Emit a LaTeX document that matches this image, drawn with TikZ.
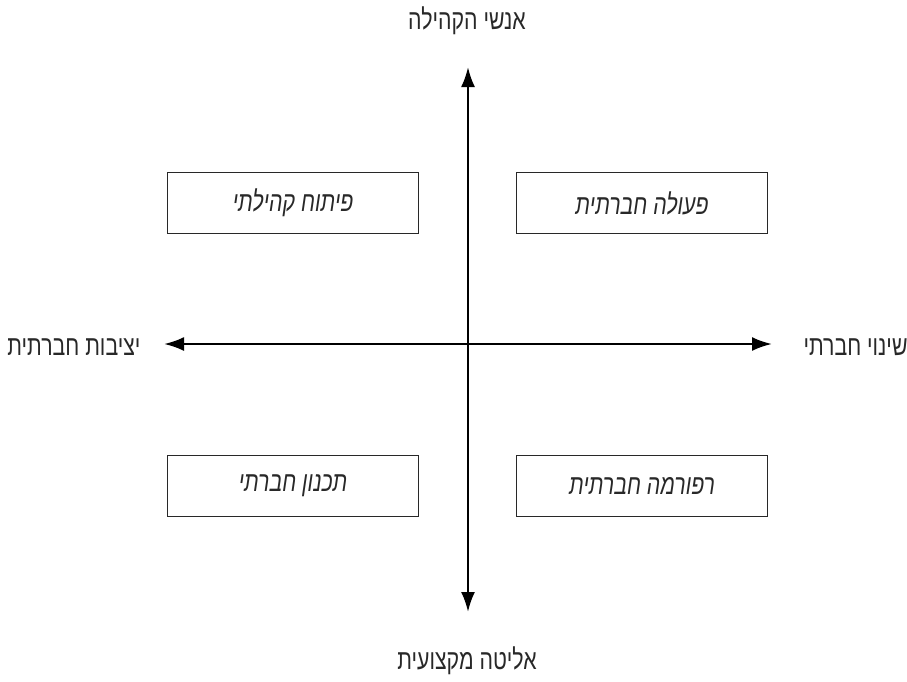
\documentclass[tikz,border=0pt]{standalone}
\usepackage{fontspec}
\usetikzlibrary{arrows.meta}
\TeXXeTstate=1
\newfontfamily\hebfont[Script=Hebrew,FakeStretch=0.76]{Liberation Sans}
\definecolor{inkgray}{RGB}{40,40,40}
\begin{document}
\begin{tikzpicture}[x=1pt,y=-1pt,
				quadbox/.style={draw=inkgray,line width=1.3pt,minimum width=251pt,minimum height=61pt,
					text=inkgray,font=\hebfont\itshape\fontsize{28}{32}\selectfont},
				axislabel/.style={text=inkgray,font=\hebfont\fontsize{28}{32}\selectfont},
				axis/.style={line width=2.4pt,-{Latex[length=20pt,width=14pt]}}]
\useasboundingbox (0,0) rectangle (907,681);
\coordinate (o) at (468,344);
\coordinate (up) at (468,67);
\coordinate (down) at (468,612);
\coordinate (left) at (164,344);
\coordinate (right) at (772,344);
\draw[axis] (o) -- (up);
\draw[axis] (o) -- (down);
\draw[axis] (o) -- (left);
\draw[axis] (o) -- (right);
\node[axislabel] (top) at (467,21) {\beginR אנשי הקהילה\endR};
\node[axislabel] (bottom) at (467,661) {\beginR אליטה מקצועית\endR};
\node[axislabel,anchor=east] (stable) at (144,347) {\beginR יציבות חברתית\endR};
\node[axislabel,anchor=west] (change) at (800,347) {\beginR שינוי חברתי\endR};
\node[quadbox] (tl) at (293,203) {\beginR פיתוח קהילתי\endR};
\node[quadbox] (tr) at (642,203) {\beginR פעולה חברתית\endR};
\node[quadbox] (bl) at (293,486) {\beginR תכנון חברתי\endR};
\node[quadbox] (br) at (642,486) {\beginR רפורמה חברתית\endR};
\end{tikzpicture}
\end{document}
